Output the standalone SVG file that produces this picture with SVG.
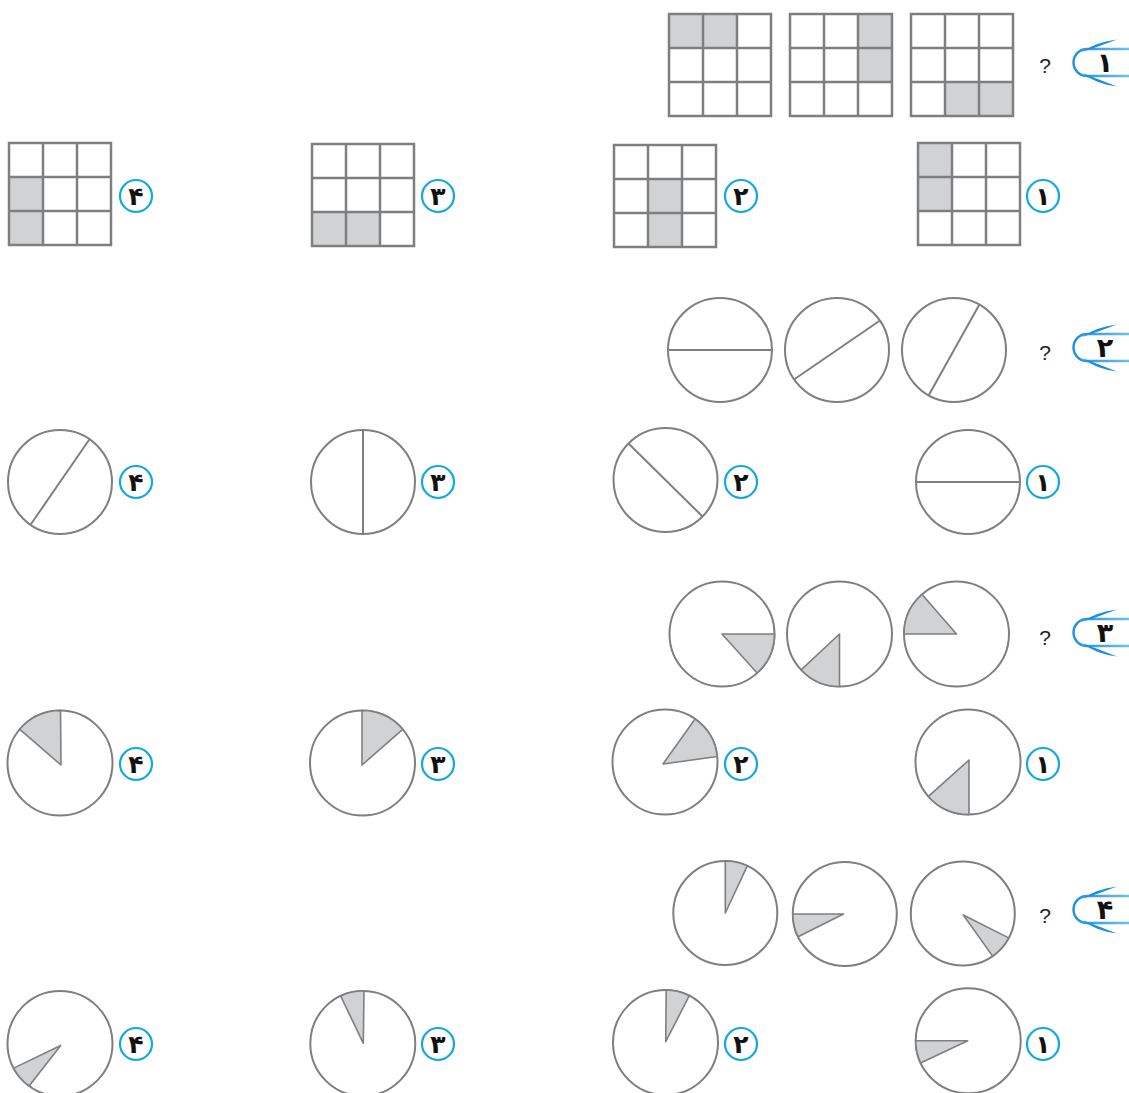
<svg xmlns="http://www.w3.org/2000/svg" xmlns:xlink="http://www.w3.org/1999/xlink" width="1129" height="1093" viewBox="0 0 1129 1093">
<style>
.ln{fill:none;stroke:#7f7f81;stroke-width:2.5}
.cl{fill:#fff;stroke:#7f7f81;stroke-width:2}
.sh{fill:#d1d2d4;stroke:none}
.wd{fill:#d1d2d4;stroke:#7f7f81;stroke-width:1.6;stroke-linejoin:round}
.lab{fill:#fff;stroke:#13a8e2;stroke-width:2.2}
.dg{font-family:"DejaVu Sans",sans-serif;font-weight:bold;font-size:25px;fill:#111;text-anchor:middle}
.bd{font-family:"DejaVu Sans",sans-serif;font-weight:bold;font-size:27px;fill:#111;text-anchor:middle}
.qm{font-family:"Liberation Sans",sans-serif;font-size:21px;fill:#222;text-anchor:middle}
.pill{fill:none;stroke:url(#bg);stroke-width:2.4}
.sw{fill:#1a8fe0}
</style>
<defs>
<linearGradient id="bg" x1="0" y1="0" x2="1" y2="0"><stop offset="0" stop-color="#1c8fe0"/><stop offset="1" stop-color="#7fc8f4"/></linearGradient>
<g id="grid"><path class="ln" d="M0,0H102V102H0Z M34,0V102 M68,0V102 M0,34H102 M0,68H102"/></g>
<g id="badge">
<path class="pill" d="M1140,49H1087A13.5,13.5 0 0 0 1087,76H1140"/>
<path class="sw" d="M1117,39.5Q1096,42 1082,52Q1099,46.5 1117,39.5Z"/>
<path class="sw" d="M1117,86.5Q1096,84 1082,73Q1099,79.5 1117,86.5Z"/>
</g>
</defs>

<!-- Question 1 -->
<g id="q1">
<g id="q1-badge"><use href="#badge"/><text class="bd" x="1105" y="72">۱</text></g>
<text class="qm" x="1045" y="73">?</text>
<g id="q1-f1" transform="translate(669,14)"><rect class="sh" x="0" y="0" width="68" height="34"/><use href="#grid"/></g>
<g id="q1-f2" transform="translate(790,14)"><rect class="sh" x="68" y="0" width="34" height="68"/><use href="#grid"/></g>
<g id="q1-f3" transform="translate(911,14)"><rect class="sh" x="34" y="68" width="68" height="34"/><use href="#grid"/></g>
</g>
<g id="q1-ans4" transform="translate(9,143)"><rect class="sh" x="0" y="34" width="34" height="68"/><use href="#grid"/></g>
<g id="q1-ans3" transform="translate(312,144)"><rect class="sh" x="0" y="68" width="68" height="34"/><use href="#grid"/></g>
<g id="q1-ans2" transform="translate(614,145)"><rect class="sh" x="34" y="34" width="34" height="68"/><use href="#grid"/></g>
<g id="q1-ans1" transform="translate(918,143)"><rect class="sh" x="0" y="0" width="34" height="68"/><use href="#grid"/></g>
<g id="q1-l4"><circle class="lab" cx="136" cy="196" r="16"/><text class="dg" x="136" y="205">۴</text></g>
<g id="q1-l3"><circle class="lab" cx="438" cy="196" r="16"/><text class="dg" x="438" y="205">۳</text></g>
<g id="q1-l2"><circle class="lab" cx="741" cy="196" r="16"/><text class="dg" x="741" y="205">۲</text></g>
<g id="q1-l1"><circle class="lab" cx="1043" cy="196" r="16"/><text class="dg" x="1043" y="205">۱</text></g>

<!-- Question 2 -->
<g id="q2">
<g id="q2-badge" transform="translate(0,285)"><use href="#badge"/><text class="bd" x="1105" y="72">۲</text></g>
<text class="qm" x="1045" y="360">?</text>
<g id="q2-f1"><circle class="cl" cx="720" cy="350" r="52"/><line class="cl" x1="668" y1="350" x2="772" y2="350"/></g>
<g id="q2-f2"><circle class="cl" cx="837" cy="350" r="52"/><line class="cl" x1="794" y1="379.5" x2="880" y2="320.5"/></g>
<g id="q2-f3"><circle class="cl" cx="954" cy="350" r="52"/><line class="cl" x1="928.6" y1="395.4" x2="979.4" y2="304.6"/></g>
</g>
<g id="q2-ans4"><circle class="cl" cx="60" cy="482" r="52"/><line class="cl" x1="30.5" y1="524.8" x2="89.5" y2="439.2"/></g>
<g id="q2-ans3"><circle class="cl" cx="363" cy="482" r="52"/><line class="cl" x1="363" y1="430" x2="363" y2="534"/></g>
<g id="q2-ans2"><circle class="cl" cx="665.5" cy="480" r="52"/><line class="cl" x1="628.5" y1="443.5" x2="702.5" y2="516.5"/></g>
<g id="q2-ans1"><circle class="cl" cx="968" cy="482" r="52"/><line class="cl" x1="916" y1="482" x2="1020" y2="482"/></g>
<g id="q2-l4"><circle class="lab" cx="136" cy="482" r="16"/><text class="dg" x="136" y="491">۴</text></g>
<g id="q2-l3"><circle class="lab" cx="438" cy="482" r="16"/><text class="dg" x="438" y="491">۳</text></g>
<g id="q2-l2"><circle class="lab" cx="741" cy="482" r="16"/><text class="dg" x="741" y="491">۲</text></g>
<g id="q2-l1"><circle class="lab" cx="1043" cy="482" r="16"/><text class="dg" x="1043" y="491">۱</text></g>

<!-- Question 3 -->
<g id="q3">
<g id="q3-badge" transform="translate(0,570)"><use href="#badge"/><text class="bd" x="1105" y="72">۳</text></g>
<text class="qm" x="1045" y="645">?</text>
<g id="q3-f1"><circle class="cl" cx="722" cy="634" r="52.5"/><path class="wd" d="M722,634L774.5,634A52.5,52.5 0 0 1 757.1,673Z"/></g>
<g id="q3-f2"><circle class="cl" cx="839.5" cy="634" r="52.5"/><path class="wd" d="M839.5,634L839.5,686.5A52.5,52.5 0 0 1 801.1,669.8Z"/></g>
<g id="q3-f3"><circle class="cl" cx="956.5" cy="634" r="52.5"/><path class="wd" d="M956.5,634L904,634A52.5,52.5 0 0 1 922.1,594.4Z"/></g>
</g>
<g id="q3-ans4"><circle class="cl" cx="60" cy="763" r="52.5"/><path class="wd" d="M61,765L19.8,729.3A52.5,52.5 0 0 1 60.5,710.5Z"/></g>
<g id="q3-ans3"><circle class="cl" cx="362.5" cy="763" r="52.5"/><path class="wd" d="M362,765L362,710.5A52.5,52.5 0 0 1 402.7,729.3Z"/></g>
<g id="q3-ans2"><circle class="cl" cx="665" cy="762" r="52.5"/><path class="wd" d="M663,764L695.1,719A52.5,52.5 0 0 1 717.2,756.5Z"/></g>
<g id="q3-ans1"><circle class="cl" cx="968" cy="762" r="52.5"/><path class="wd" d="M969,760L969,814.5A52.5,52.5 0 0 1 928.4,796.4Z"/></g>
<g id="q3-l4"><circle class="lab" cx="136" cy="764" r="16"/><text class="dg" x="136" y="773">۴</text></g>
<g id="q3-l3"><circle class="lab" cx="438" cy="764" r="16"/><text class="dg" x="438" y="773">۳</text></g>
<g id="q3-l2"><circle class="lab" cx="741" cy="764" r="16"/><text class="dg" x="741" y="773">۲</text></g>
<g id="q3-l1"><circle class="lab" cx="1043" cy="764" r="16"/><text class="dg" x="1043" y="773">۱</text></g>

<!-- Question 4 -->
<g id="q4">
<g id="q4-badge" transform="translate(0,847)"><use href="#badge"/><text class="bd" x="1105" y="72">۴</text></g>
<text class="qm" x="1045" y="923">?</text>
<g id="q4-f1"><circle class="cl" cx="725.3" cy="913" r="52"/><path class="wd" d="M725.3,913L725.3,861A52,52 0 0 1 747.3,865.9Z"/></g>
<g id="q4-f2"><circle class="cl" cx="844.8" cy="914" r="52"/><path class="wd" d="M843.5,914L798.1,936.8A52,52 0 0 1 792.8,914Z"/></g>
<g id="q4-f3"><circle class="cl" cx="962.8" cy="913.5" r="52"/><path class="wd" d="M963.3,915L1008.7,937.9A52,52 0 0 1 992.6,956.1Z"/></g>
</g>
<g id="q4-ans4"><circle class="cl" cx="60" cy="1043.5" r="52.5"/><path class="wd" d="M60.7,1045.5L29.1,1086A52.5,52.5 0 0 1 13.6,1068.1Z"/></g>
<g id="q4-ans3"><circle class="cl" cx="362.8" cy="1043.5" r="52.5"/><path class="wd" d="M363.3,1043.3L340.6,995.9A52.5,52.5 0 0 1 364,991Z"/></g>
<g id="q4-ans2"><circle class="cl" cx="665.5" cy="1042.5" r="52.5"/><path class="wd" d="M665.7,1041.7L666.2,990A52.5,52.5 0 0 1 689.3,995.7Z"/></g>
<g id="q4-ans1"><circle class="cl" cx="968.2" cy="1040.8" r="52.5"/><path class="wd" d="M967.7,1040.7L920.6,1063A52.5,52.5 0 0 1 915.7,1040.8Z"/></g>
<g id="q4-l4"><circle class="lab" cx="136" cy="1044" r="16"/><text class="dg" x="136" y="1053">۴</text></g>
<g id="q4-l3"><circle class="lab" cx="438" cy="1044" r="16"/><text class="dg" x="438" y="1053">۳</text></g>
<g id="q4-l2"><circle class="lab" cx="741" cy="1044" r="16"/><text class="dg" x="741" y="1053">۲</text></g>
<g id="q4-l1"><circle class="lab" cx="1043" cy="1044" r="16"/><text class="dg" x="1043" y="1053">۱</text></g>
</svg>
